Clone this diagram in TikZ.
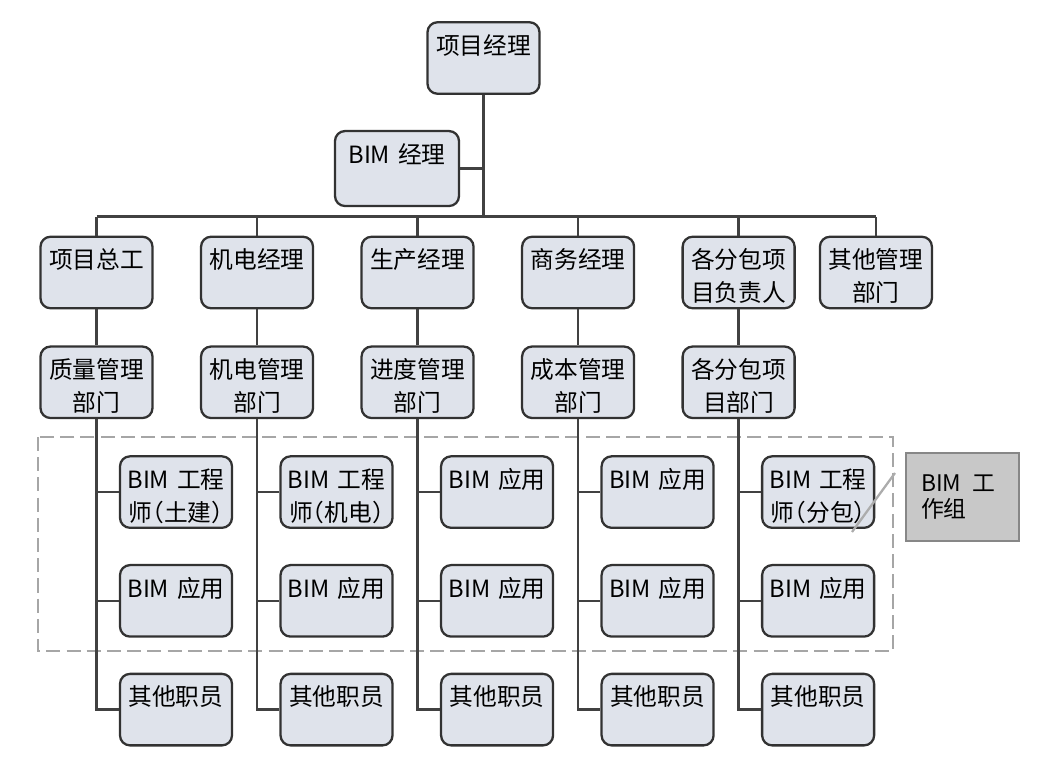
\documentclass[tikz,border=0pt]{standalone}
\usepackage{fontspec}
\newfontfamily\cjk[RawFeature=+halt]{Noto Sans CJK SC}
\usetikzlibrary{positioning}
\definecolor{boxfill}{RGB}{223,227,235}
\definecolor{boxline}{RGB}{50,50,50}
\definecolor{wireline}{RGB}{65,65,65}
\definecolor{teamfill}{RGB}{200,200,200}
\definecolor{teamline}{RGB}{135,135,135}

\begin{document}
\begin{tikzpicture}[
    node distance=0.72cm and 0.925cm,
    font=\cjk\fontsize{13.5}{18.7}\selectfont,
    post/.style={rectangle, draw=boxline, line width=1.3pt, fill=boxfill, rounded corners=0.2cm, text width=2cm, align=center, inner xsep=0.12cm, inner ysep=0.12cm, text height=0.52cm, text depth=0.67cm},
    wire/.style={draw=wireline, line width=1.3pt},
    team/.style={draw=gray!70, line width=1.2pt, dash pattern=on 8pt off 3.5pt},
    tag/.style={rectangle, draw=teamline, line width=1.2pt, fill=teamfill, text width=1.66cm, align=left, inner xsep=0.3cm, minimum height=1.76cm, font=\cjk\fontsize{13}{14.7}\selectfont},
    pointer/.style={draw=gray!65, line width=1.3pt}
]
    \useasboundingbox (0,0) rectangle (20.74,-15.5);

    % top of the tree
    \node (pm) [post] at (9.67,-1.16) {项目经理};
    \node (bim) [post, below=0.7cm of pm, xshift=-1.73cm, text width=2.24cm, text depth=0.74cm] {BIM 经理};

    % managers
    \node (zong) [post] at (1.93,-5.45) {项目总工};
    \node (jidian) [post, right=of zong] {机电经理};
    \node (sheng) [post, right=of jidian] {生产经理};
    \node (shang) [post, right=of sheng] {商务经理};
    \node (fenbao) [post, right=of shang] {各分包项\\目负责人};
    \node (qita) [post, right=0.46cm of fenbao] {其他管理\\部门};

    % departments
    \node (quality) [post, below=of zong] {质量管理\\部门};
    \node (jdDept) [post, below=of jidian] {机电管理\\部门};
    \node (progress) [post, below=of sheng] {进度管理\\部门};
    \node (cost) [post, below=of shang] {成本管理\\部门};
    \node (subDept) [post, below=of fenbao] {各分包项\\目部门};

    % staff under each department
    \node (topA) [post, below=of quality, xshift=1.59cm] {BIM 工程\\师（土建）};
    \node (midA) [post, below=0.7cm of topA] {BIM 应用};
    \node (lowA) [post, below=0.7cm of midA] {其他职员};
    \node (topB) [post, below=of jdDept, xshift=1.59cm] {BIM 工程\\师（机电）};
    \node (midB) [post, below=0.7cm of topB] {BIM 应用};
    \node (lowB) [post, below=0.7cm of midB] {其他职员};
    \node (topC) [post, below=of progress, xshift=1.59cm] {BIM 应用};
    \node (midC) [post, below=0.7cm of topC] {BIM 应用};
    \node (lowC) [post, below=0.7cm of midC] {其他职员};
    \node (topD) [post, below=of cost, xshift=1.59cm] {BIM 应用};
    \node (midD) [post, below=0.7cm of topD] {BIM 应用};
    \node (lowD) [post, below=0.7cm of midD] {其他职员};
    \node (topE) [post, below=of subDept, xshift=1.59cm] {BIM 工程\\师（分包）};
    \node (midE) [post, below=0.7cm of topE] {BIM 应用};
    \node (lowE) [post, below=0.7cm of midE] {其他职员};

    % BIM work group
    \draw [team] (0.76,-8.74) rectangle (17.86,-13.02);
    \node (tag) [tag] at (19.25,-9.94) {BIM\enspace 工\\作组};
    \coordinate (leadA) at (17.9,-9.46);
    \coordinate (leadB) at (17.04,-10.64);
    \draw [pointer] (leadA) -- (leadB);

    % connectors
    \coordinate [above=0.38cm of zong.north] (busL);
    \draw [wire] (pm) -- (pm |- busL);
    \draw [wire] (bim) -- (bim -| pm);
    \draw [wire] (busL) -- (busL -| qita);
    \foreach \n in {zong, jidian, sheng, shang, fenbao, qita}
        \draw [wire] (\n) -- (\n |- busL);
    \foreach \u/\d in {zong/quality, jidian/jdDept, sheng/progress, shang/cost, fenbao/subDept}
        \draw [wire] (\u) -- (\d);
    \foreach \d/\k in {quality/A, jdDept/B, progress/C, cost/D, subDept/E} {
        \draw [wire] (\d.south) |- (low\k);
        \draw [wire] (\d.south |- top\k) -- (top\k);
        \draw [wire] (\d.south |- mid\k) -- (mid\k);
    }
\end{tikzpicture}
\end{document}
